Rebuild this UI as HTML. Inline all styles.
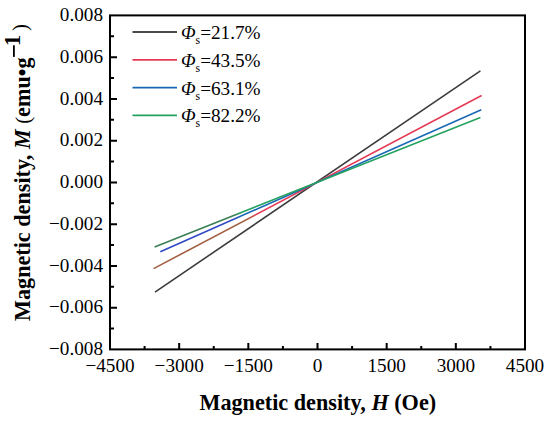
<!DOCTYPE html>
<html><head><meta charset="utf-8">
<style>
html,body{margin:0;padding:0;background:#fff;width:550px;height:421px;overflow:hidden}
svg{display:block}
text{font-family:"Liberation Serif",serif;fill:#000}
</style></head><body>
<svg width="550" height="421" viewBox="0 0 550 421">
<g fill="none" stroke-width="1.6">
<defs><linearGradient id="gg" gradientUnits="userSpaceOnUse" x1="150" y1="0" x2="485" y2="0"><stop offset="0.251" stop-color="#3B7F55"/><stop offset="0.275" stop-color="#24A260"/></linearGradient><linearGradient id="gb" gradientUnits="userSpaceOnUse" x1="150" y1="0" x2="485" y2="0"><stop offset="0.251" stop-color="#2E48C4"/><stop offset="0.275" stop-color="#1868B6"/></linearGradient><linearGradient id="gr" gradientUnits="userSpaceOnUse" x1="150" y1="0" x2="485" y2="0"><stop offset="0.293" stop-color="#A35F42"/><stop offset="0.319" stop-color="#E43A54"/></linearGradient></defs>
<line x1="155" y1="292.1" x2="480.4" y2="70.8" stroke="#3C3C3C"/>
<line x1="153.6" y1="268.6" x2="481.6" y2="95.5" stroke="url(#gr)"/>
<line x1="160.3" y1="251.8" x2="481.3" y2="109.7" stroke="url(#gb)"/>
<line x1="154.6" y1="246.9" x2="480.4" y2="117.4" stroke="url(#gg)"/>
</g>
<rect x="110" y="15.4" width="415" height="334.0" fill="none" stroke="#000" stroke-width="2"/>
<path stroke="#000" stroke-width="2" fill="none" d="M144.58 349.4V345.90M179.17 349.4V342.90M213.75 349.4V345.90M248.33 349.4V342.90M282.92 349.4V345.90M317.50 349.4V342.90M352.08 349.4V345.90M386.67 349.4V342.90M421.25 349.4V345.90M455.83 349.4V342.90M490.42 349.4V345.90M110 36.27H114.00M110 57.15H117.00M110 78.03H114.00M110 98.90H117.00M110 119.78H114.00M110 140.65H117.00M110 161.53H114.00M110 182.40H117.00M110 203.28H114.00M110 224.15H117.00M110 245.03H114.00M110 265.90H117.00M110 286.77H114.00M110 307.65H117.00M110 328.52H114.00"/>
<g font-size="19.2px" text-anchor="end">
<text x="103" y="21.00">0.008</text>
<text x="103" y="62.75">0.006</text>
<text x="103" y="104.50">0.004</text>
<text x="103" y="146.25">0.002</text>
<text x="103" y="188.00">0.000</text>
<text x="103" y="229.75">−0.002</text>
<text x="103" y="271.50">−0.004</text>
<text x="103" y="313.25">−0.006</text>
<text x="103" y="355.00">−0.008</text>
</g>
<g font-size="19.2px" text-anchor="middle">
<text x="110.00" y="371.5">−4500</text>
<text x="179.17" y="371.5">−3000</text>
<text x="248.33" y="371.5">−1500</text>
<text x="317.50" y="371.5">0</text>
<text x="386.67" y="371.5">1500</text>
<text x="455.83" y="371.5">3000</text>
<text x="525.00" y="371.5">4500</text>
</g>
<g stroke-width="1.8">
<line x1="132.5" y1="32" x2="177" y2="32" stroke="#4A4A4A"/>
<line x1="132.5" y1="59.8" x2="177" y2="59.8" stroke="#E43A54"/>
<line x1="132.5" y1="87.6" x2="177" y2="87.6" stroke="#1868B6"/>
<line x1="132.5" y1="115.4" x2="177" y2="115.4" stroke="#24A260"/>
</g>
<g font-size="19.2px">
<text x="181" y="39"><tspan font-style="italic">Φ</tspan><tspan font-size="11.8px" dy="5">s</tspan><tspan dy="-5">=21.7%</tspan></text>
<text x="181" y="66.8"><tspan font-style="italic">Φ</tspan><tspan font-size="11.8px" dy="5">s</tspan><tspan dy="-5">=43.5%</tspan></text>
<text x="181" y="94.6"><tspan font-style="italic">Φ</tspan><tspan font-size="11.8px" dy="5">s</tspan><tspan dy="-5">=63.1%</tspan></text>
<text x="181" y="122.4"><tspan font-style="italic">Φ</tspan><tspan font-size="11.8px" dy="5">s</tspan><tspan dy="-5">=82.2%</tspan></text>
</g>
<text font-size="22.2px" font-weight="bold" x="317.8" y="410" text-anchor="middle">Magnetic density, <tspan font-style="italic">H</tspan> (Oe)</text>
<text font-size="22.2px" font-weight="bold" transform="translate(29.5,321) rotate(-90)">Magnetic density, <tspan font-style="italic">M</tspan> <tspan font-weight="normal" font-size="20.5px">(</tspan>emu•g</text>
<rect x="13" y="45.3" width="1.8" height="11.6" fill="#000"/>
<text font-size="22.2px" font-weight="bold" transform="translate(20,46) rotate(-90)">1</text>
<text font-size="20.5px" transform="translate(26.8,31) rotate(-90)">)</text>
</svg>
</body></html>
